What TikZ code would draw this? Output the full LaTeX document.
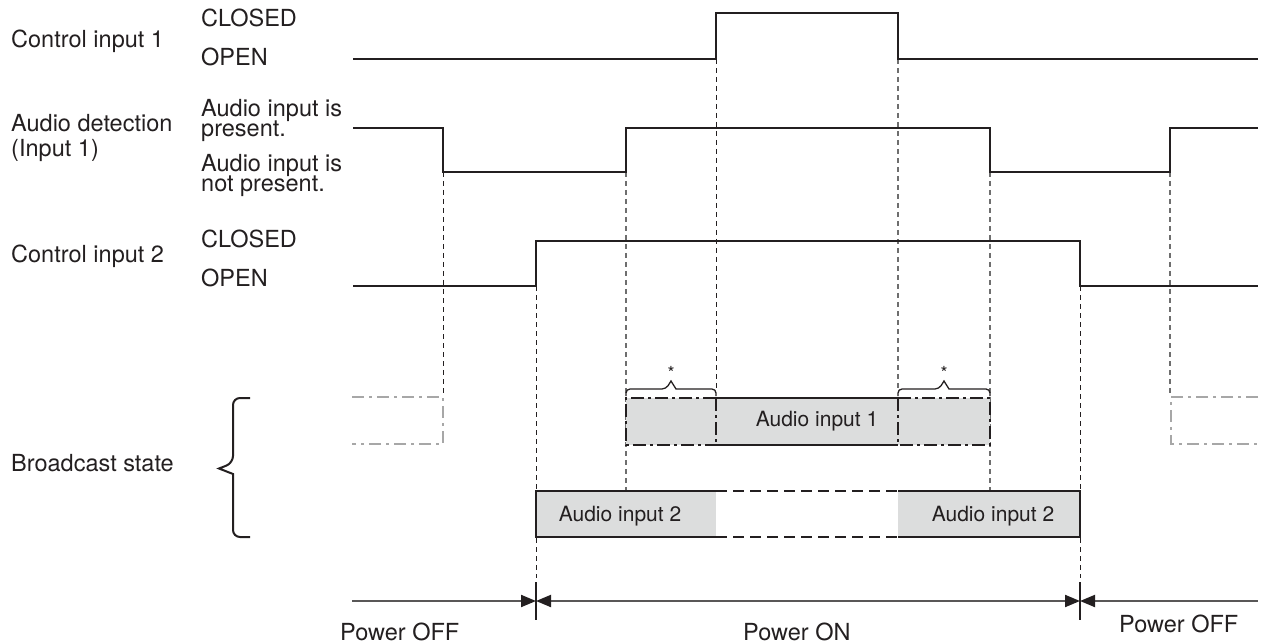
\documentclass[tikz,border=0pt]{standalone}
\usepackage{fontspec}
\setmainfont{TeX Gyre Heros}
\usetikzlibrary{arrows.meta}
\definecolor{ink}{HTML}{231F20}
\definecolor{boxgray}{HTML}{DCDDDD}
\definecolor{ghostgray}{HTML}{A7A7A7}
\definecolor{guidegray}{HTML}{6E6E6E}
\definecolor{pline}{HTML}{595757}
\tikzset{ptip/.tip={Triangle[length=15pt,width=12pt,color=ink]}}
\begin{document}
\begin{tikzpicture}[x=1pt,y=-1pt,
  lbl/.style={inner sep=0pt, anchor=base west, text=ink, font=\fontsize{23.5}{24}\selectfont},
  boxlbl/.style={inner sep=0pt, text=ink, font=\fontsize{21}{22}\selectfont},
  starlbl/.style={inner sep=0pt, text=ink, font=\fontsize{18}{18}\selectfont},
  sig/.style={draw=ink, line width=2.6pt, line join=miter},
  guide/.style={draw=ink, line width=0.9pt, dash pattern=on 5pt off 4pt},
  guideg/.style={draw=guidegray, line width=1.1pt, dash pattern=on 5pt off 4pt},
  solidedge/.style={draw=ink, line width=2.8pt},
  dashedge/.style={draw=ink, line width=2.8pt, dash pattern=on 11pt off 6pt},
  dotdash/.style={draw=ink, line width=2.8pt, dash pattern=on 13pt off 4pt on 3pt off 4pt},
  ghost/.style={draw=ghostgray, line width=2.6pt, dash pattern=on 12pt off 5pt on 3pt off 5pt},
  smallbrace/.style={draw=ink, line width=1.3pt},
  bigbrace/.style={draw=ink, line width=2pt},
  pwr/.style={draw=pline, line width=2pt},
  tick/.style={draw=ink, line width=1.2pt}
]
\useasboundingbox (0,0) rectangle (1263,644);

% ---------- left labels ----------
\node[lbl] (c1) at (11,48) {Control input 1};
\node[lbl] (c1closed) at (201,27) {CLOSED};
\node[lbl] (c1open) at (201,66) {OPEN};

\node[lbl] (ad1) at (11,132) {Audio detection};
\node[lbl] (ad2) at (11,157) {(Input 1)};
\node[lbl] (adp1) at (201,117) {Audio input is};
\node[lbl] (adp2) at (201,137) {present.};
\node[lbl] (adn1) at (201,172) {Audio input is};
\node[lbl] (adn2) at (201,192) {not present.};

\node[lbl] (c2) at (11,263) {Control input 2};
\node[lbl] (c2closed) at (201,248) {CLOSED};
\node[lbl] (c2open) at (201,287) {OPEN};

\node[lbl] (bs) at (11,471) {Broadcast state};

% ---------- guide lines ----------
\draw[guide]  (443,172) -- (443,394);
\draw[guide]  (536,286) -- (536,578);
\draw[guideg] (626,172) -- (626,491);
\draw[guide]  (716,59) -- (716,389);
\draw[guideg] (898,59) -- (898,389);
\draw[guideg] (990,172) -- (990,491);
\draw[guide]  (1080,286) -- (1080,578);
\draw[guideg] (1170,172) -- (1170,394);

% ---------- signals ----------
\draw[sig] (353,59) -- (716,59) -- (716,13) -- (898,13) -- (898,59) -- (1258,59);
\draw[sig] (353,128) -- (443,128) -- (443,172) -- (626,172) -- (626,128)
  -- (990,128) -- (990,172) -- (1170,172) -- (1170,128) -- (1258,128);
\draw[sig] (353,286) -- (536,286) -- (536,241) -- (1080,241) -- (1080,286) -- (1258,286);

% ---------- broadcast state ----------
\draw[bigbrace] (250,398) [rounded corners=7pt] -- (233,398) -- (233,463) [sharp corners] -- (219,468.5)
  -- (233,474) [rounded corners=7pt] -- (233,537) -- (250,537);

% ghost boxes
\draw[ghost] (352,397) -- (443,397) -- (443,444) -- (352,444);
\draw[ghost] (1258,397) -- (1171,397) -- (1171,444) -- (1258,444);

% upper box
\fill[boxgray] (626,398) rectangle (990,445);
\draw[dotdash] (716,398) -- (626,398) -- (626,445) -- (716,445);
\draw[dotdash] (716,398) -- (716,445);
\draw[solidedge] (716,398) -- (898,398);
\draw[solidedge] (716,445) -- (898,445);
\draw[dotdash] (898,398) -- (990,398) -- (990,445) -- (898,445);
\draw[dotdash] (898,398) -- (898,445);
\node[boxlbl] (a1) at (817,421) {Audio input 1};

% small braces and stars
\draw[smallbrace] (626,396) [rounded corners=4pt] -- (626,389) -- (666,389) [sharp corners] -- (671,381)
  -- (676,389) [rounded corners=4pt] -- (716,389) -- (716,396);
\draw[smallbrace] (898,396) [rounded corners=4pt] -- (898,389) -- (939,389) [sharp corners] -- (944,381)
  -- (949,389) [rounded corners=4pt] -- (990,389) -- (990,396);
\node[starlbl] (s1) at (671,373) {*};
\node[starlbl] (s2) at (944,373) {*};

% lower box
\fill[boxgray] (537,491) rectangle (716,537);
\fill[boxgray] (898,491) rectangle (1079,537);
\draw[solidedge] (716,491) -- (536,491) -- (536,537) -- (716,537);
\draw[solidedge] (898,491) -- (1080,491) -- (1080,537) -- (898,537);
\draw[dashedge] (716,491) -- (898,491);
\draw[dashedge] (716,537) -- (898,537);
\node[boxlbl] (a2l) at (620,516) {Audio input 2};
\node[boxlbl] (a2r) at (993,516) {Audio input 2};

% ---------- power line ----------
\coordinate (pl) at (352,601);
\coordinate (t1) at (536,601);
\coordinate (t2) at (1080,601);
\coordinate (pr) at (1258,601);
\draw[pwr, -{ptip}] (pl) -- (t1);
\draw[pwr, {ptip}-{ptip}] (t1) -- (t2);
\draw[pwr, {ptip}-] (t2) -- (pr);
\draw[tick] (536,582) -- (536,620);
\draw[tick] (1080,582) -- (1080,620);
\node[lbl] (poff1) at (340,640) {Power OFF};
\node[lbl] (pon) at (743,640) {Power ON};
\node[lbl] (poff2) at (1119,632) {Power OFF};
\end{tikzpicture}
\end{document}
